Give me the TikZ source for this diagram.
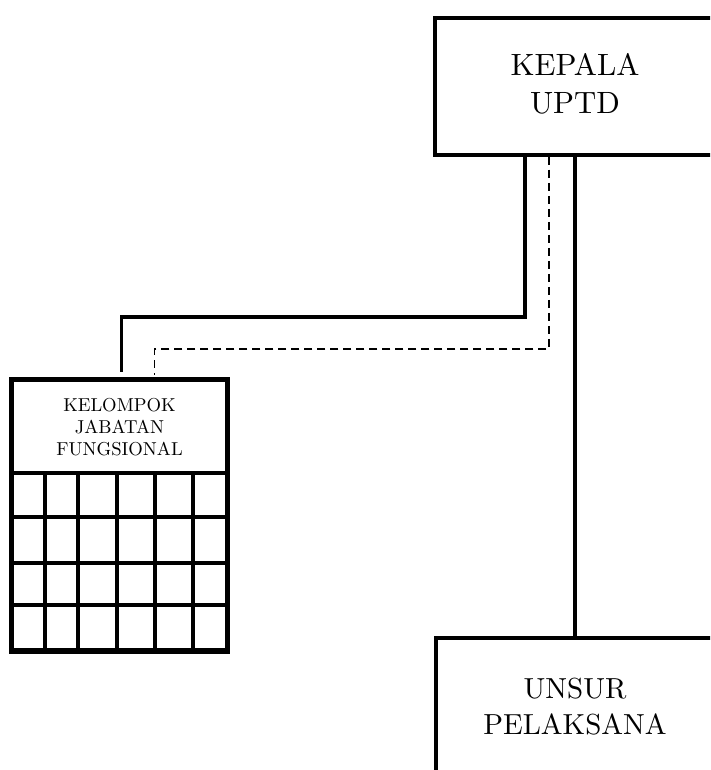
\documentclass[tikz,border=0pt]{standalone}
\newcommand{\bigtxt}[3]{\scalebox{#1}{\fontsize{10}{#2}\selectfont\begin{tabular}{@{}c@{}}#3\end{tabular}}}
\begin{document}
\begin{tikzpicture}[x=1pt,y=-1pt,
  box/.style={draw=black,line width=3.5pt,fill=white,inner sep=0pt,align=center},
  conn/.style={draw=black,line width=3.2pt},
  dconn/.style={draw=black,line width=1.8pt,dash pattern=on 8pt off 5pt},
  gridline/.style={draw=black,line width=3.3pt}]
\useasboundingbox (0,0) rectangle (710,770);
\clip (0,0) rectangle (710,770);
\fill[white] (0,0) rectangle (710,770);
% boxes
\node[box,minimum width=280pt,minimum height=137pt] (kepala) at (575,86.5) {\bigtxt{3.08}{12.35}{KEPALA\\UPTD}};
\node[box,minimum width=278pt,minimum height=143pt] (unsur) at (575,709.5) {\bigtxt{2.9}{12.4}{UNSUR\\PELAKSANA}};
\node[box,minimum width=214pt,minimum height=270pt] (kjfbox) at (119.5,515) {};
\node[inner sep=0pt,align=center] (kjf) at (119.5,429) {\bigtxt{1.87}{11.8}{KELOMPOK\\JABATAN\\FUNGSIONAL}};
% grid
\draw[gridline] (kjfbox.west |- 0,473) -- (kjfbox.east |- 0,473);
\foreach \y in {517,563,605} \draw[gridline] (kjfbox.west |- 0,\y) -- (kjfbox.east |- 0,\y);
\foreach \x in {45,78,117,155,193} \draw[gridline] (\x,473) -- (\x,650);
\draw[box,fill=none] (kjfbox.north west) rectangle (kjfbox.south east);
% connectors
\coordinate (solidEnd) at (121.5,372);
\coordinate (dashEnd) at (154.5,375);
\draw[conn] ([xshift=-50pt]kepala.south) |- ([yshift=55pt]solidEnd) -- (solidEnd);
\draw[dconn] ([xshift=-26pt]kepala.south) |- ([yshift=26pt]dashEnd) -- (dashEnd);
\draw[conn] (kepala.south) -- (unsur.north);
\end{tikzpicture}
\end{document}
